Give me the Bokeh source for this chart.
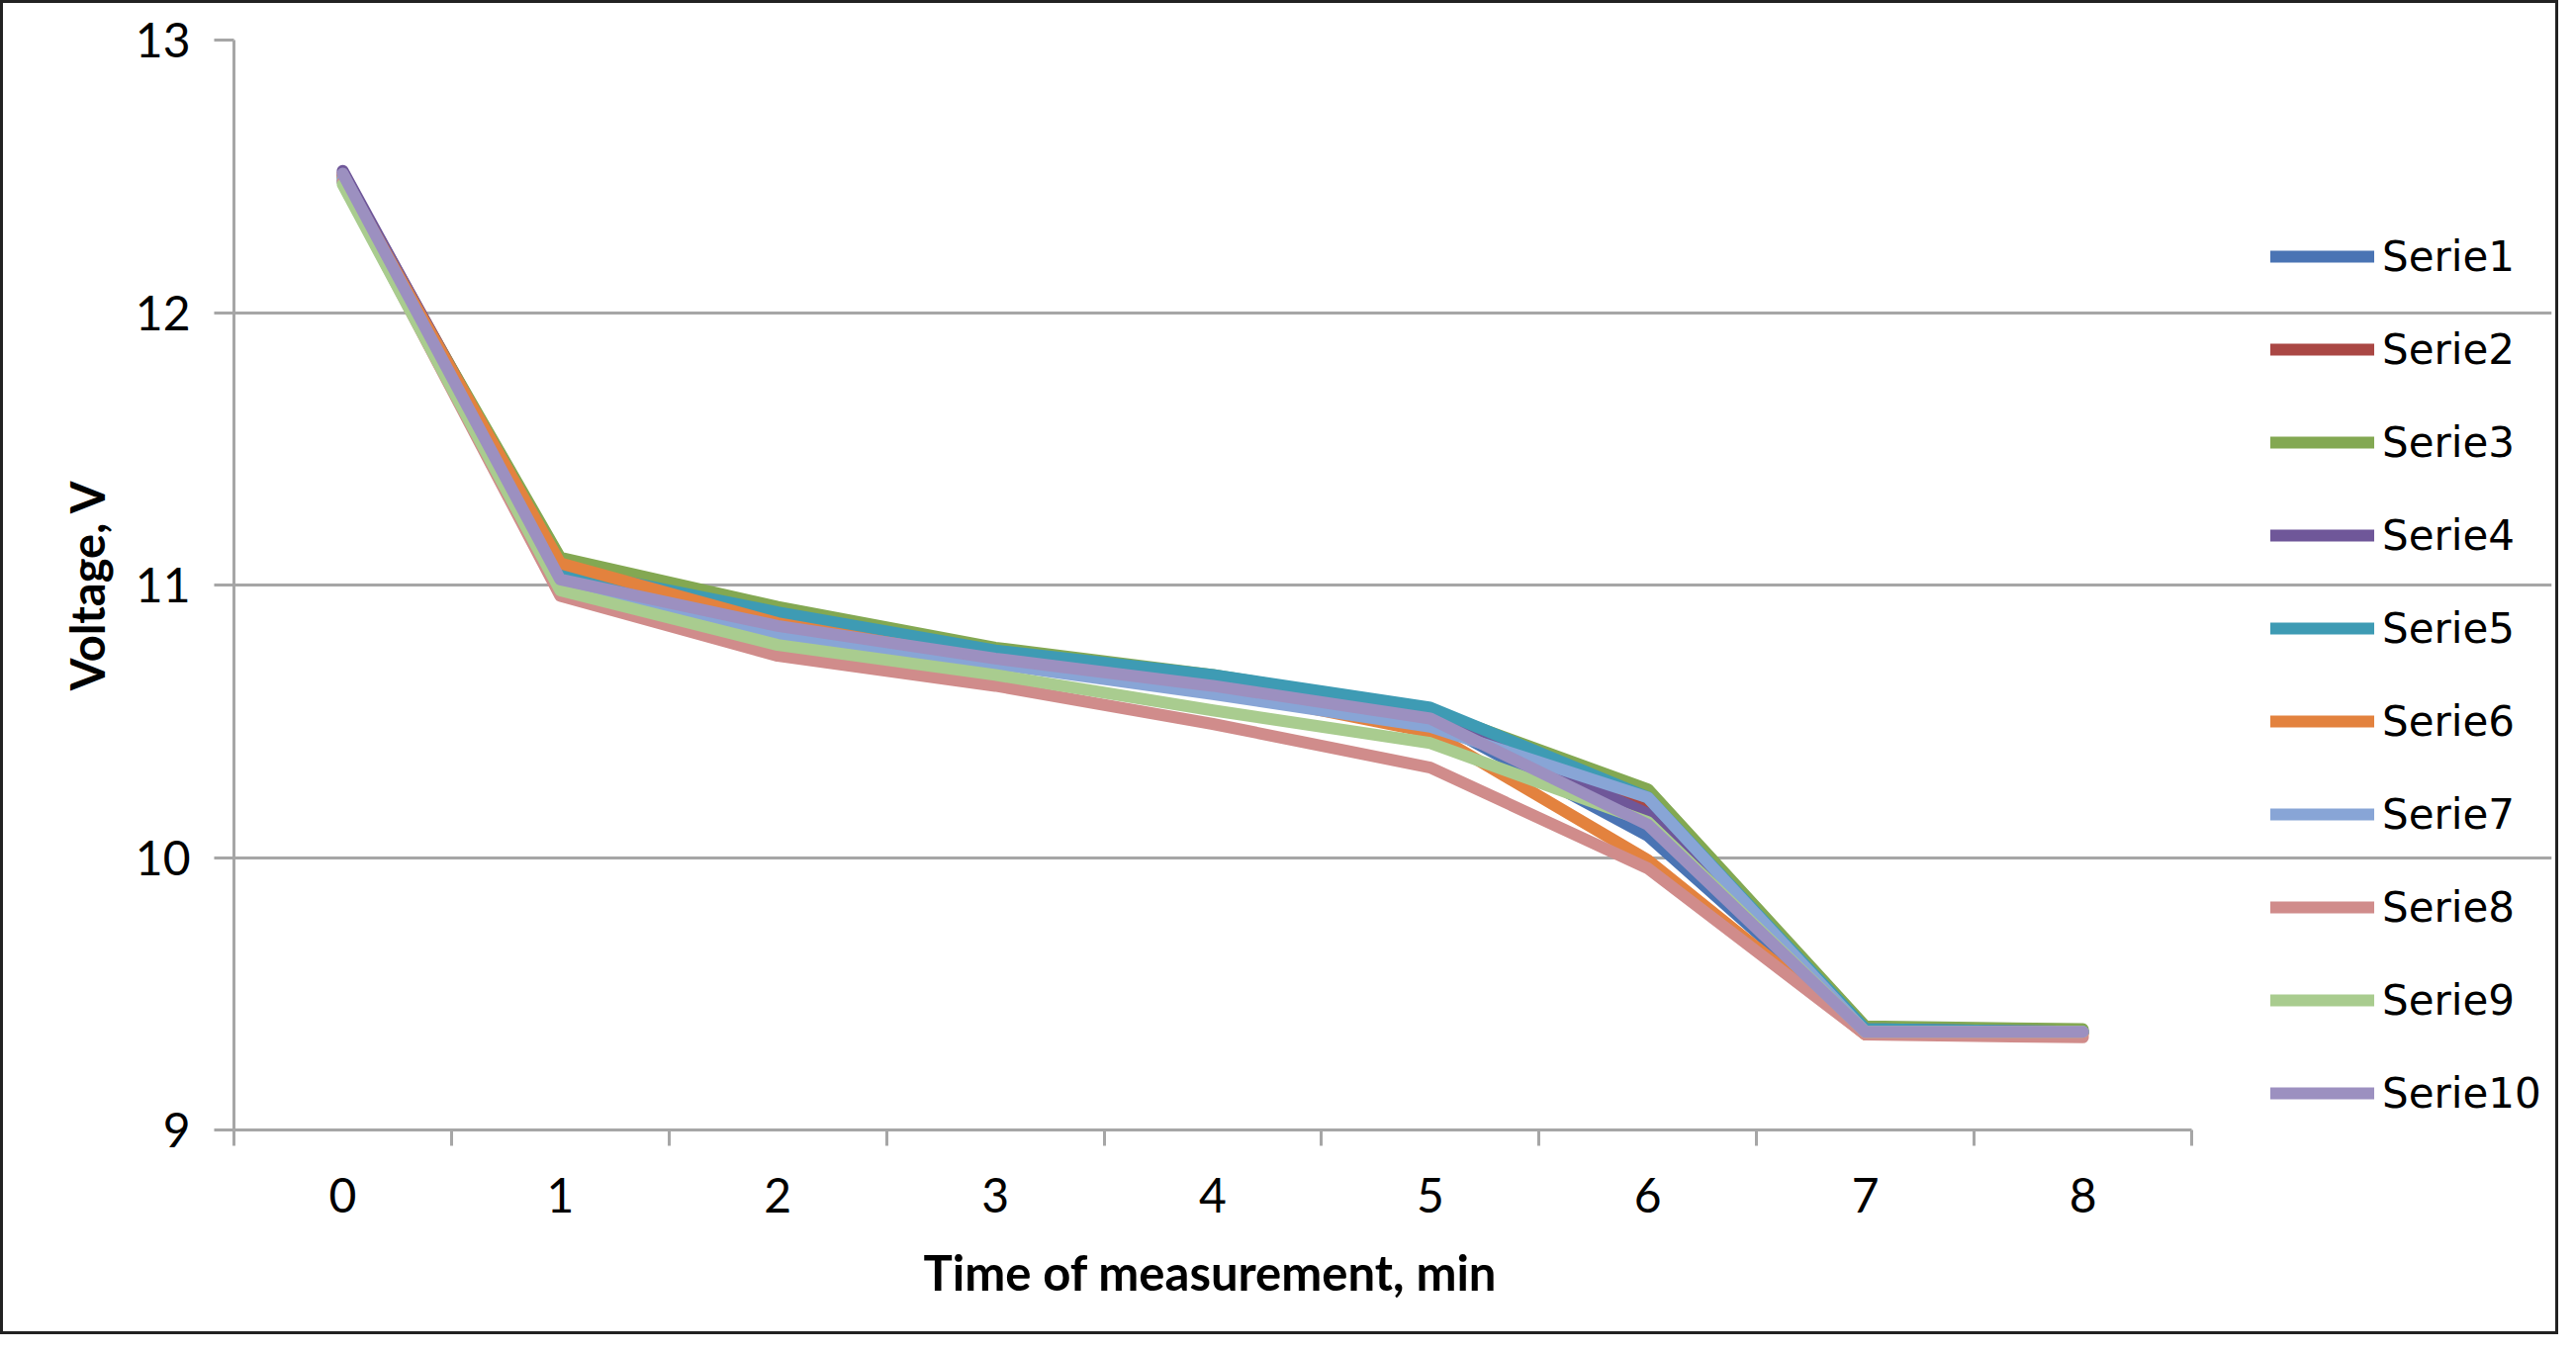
from bokeh.plotting import figure
from bokeh.models import Range1d, FixedTicker, Legend, LegendItem, Title
from bokeh.embed import file_html
from bokeh.resources import INLINE

times = [0, 1, 2, 3, 4, 5, 6, 7, 8]
x_tick_labels = ["0", "1", "2", "3", "4", "5", "6", "7", "8"]
y_ticks = [9, 10, 11, 12, 13]
series_names = ["Serie1", "Serie2", "Serie3", "Serie4", "Serie5",
                "Serie6", "Serie7", "Serie8", "Serie9", "Serie10"]
serie1 = [12.50, 11.05, 10.87, 10.74, 10.64, 10.51, 10.08, 9.37, 9.36]
serie2 = [12.51, 11.08, 10.89, 10.75, 10.65, 10.52, 10.18, 9.37, 9.36]
serie3 = [12.49, 11.10, 10.92, 10.77, 10.67, 10.54, 10.25, 9.38, 9.37]
serie4 = [12.52, 11.06, 10.88, 10.74, 10.64, 10.52, 10.16, 9.37, 9.36]
serie5 = [12.48, 11.06, 10.90, 10.76, 10.67, 10.55, 10.22, 9.37, 9.36]
serie6 = [12.50, 11.08, 10.86, 10.72, 10.62, 10.46, 9.99, 9.35, 9.35]
serie7 = [12.49, 11.00, 10.82, 10.71, 10.60, 10.48, 10.22, 9.36, 9.36]
serie8 = [12.48, 10.96, 10.74, 10.63, 10.49, 10.33, 9.96, 9.35, 9.34]
serie9 = [12.47, 10.98, 10.78, 10.67, 10.54, 10.42, 10.13, 9.36, 9.36]
serie10 = [12.51, 11.02, 10.85, 10.73, 10.63, 10.51, 10.12, 9.36, 9.36]
series_values = [serie1, serie2, serie3, serie4, serie5,
                 serie6, serie7, serie8, serie9, serie10]
colors = ["#4A74B4", "#AA4744", "#83A852", "#6F5799", "#3E9BB4",
          "#E3823E", "#88A5D6", "#D08C8B", "#A9CC8F", "#9C90C0"]
x_title = "Time of measurement, min"
y_title = "Voltage, V"

GRAY = "#A6A6A6"
W, H = 2586, 1349
LEFT, RIGHT_EDGE, MBR = 233, 2212, 10
x_lo, x_hi = times[0] - 0.5, times[-1] + 0.5
# extend the frame so that the legend (drawn in the frame) fits to the right
x_end = x_lo + (W - MBR - LEFT) * (x_hi - x_lo) / (RIGHT_EDGE - LEFT)

p = figure(width=W, height=H, output_backend="svg", toolbar_location=None,
           x_range=Range1d(x_lo, x_end), y_range=Range1d(9, 13),
           min_border_left=LEFT, min_border_right=MBR,
           min_border_top=37, min_border_bottom=210)
p.styles = {"border": "3px solid #222222"}
p.outline_line_color = None
p.background_fill_color = "white"
p.border_fill_color = "white"

renderers = []
for name, vals, c in zip(series_names, series_values, colors):
    r = p.line(times, vals, line_color=c, line_width=12,
               line_join="round", line_cap="round")
    renderers.append(r)

# x axis: labels at category centres, tick marks between categories
p.xaxis.bounds = (x_lo, x_hi)
p.xaxis.ticker = FixedTicker(ticks=times,
                             minor_ticks=[t - 0.5 for t in times] + [x_hi])
p.xaxis.major_label_overrides = {t: l for t, l in zip(times, x_tick_labels)}
p.xaxis.major_tick_out = 0
p.xaxis.major_tick_in = 0
p.xaxis.minor_tick_out = 16
p.xaxis.minor_tick_in = 0
p.xaxis.minor_tick_line_color = GRAY
p.xaxis.minor_tick_line_width = 3
p.xaxis.axis_line_color = GRAY
p.xaxis.axis_line_width = 3
p.xaxis.major_label_text_font = "Lato"
p.xaxis.major_label_text_font_size = "48px"
p.xaxis.major_label_text_color = "black"
p.xaxis.major_label_standoff = 32

# x-axis title, centred under the plotted categories (not the legend area)
xt = Title(text=x_title, align="left", offset=697, vertical_align="top",
           standoff=56, text_font="Lato", text_font_style="bold",
           text_font_size="49px", text_color="black")
p.add_layout(xt, "below")

p.yaxis.ticker = FixedTicker(ticks=y_ticks)
p.yaxis.major_tick_out = 20
p.yaxis.major_tick_in = 0
p.yaxis.minor_tick_out = 0
p.yaxis.minor_tick_in = 0
p.yaxis.major_tick_line_color = GRAY
p.yaxis.major_tick_line_width = 3
p.yaxis.axis_line_color = GRAY
p.yaxis.axis_line_width = 3
p.yaxis.major_label_text_font = "Lato"
p.yaxis.major_label_text_font_size = "48px"
p.yaxis.major_label_text_color = "black"
p.yaxis.major_label_standoff = 24
p.yaxis.axis_label = y_title
p.yaxis.axis_label_text_font = "Lato"
p.yaxis.axis_label_text_font_style = "bold"
p.yaxis.axis_label_text_font_size = "47px"
p.yaxis.axis_label_text_color = "black"
p.yaxis.axis_label_standoff = 18

p.xgrid.grid_line_color = None
p.ygrid.ticker = FixedTicker(ticks=y_ticks)
p.ygrid.bounds = (x_lo, x_hi)
p.ygrid.grid_line_color = GRAY
p.ygrid.grid_line_width = 3

legend = Legend(items=[LegendItem(label=n, renderers=[r]) for n, r in zip(series_names, renderers)],
                location=(2059, -10), orientation="vertical",
                glyph_width=105, glyph_height=94, label_height=94,
                label_standoff=8, spacing=0, padding=0, margin=0,
                label_text_font="DejaVu Sans", label_text_font_size="42px",
                label_text_color="black", border_line_color=None,
                background_fill_alpha=0)
p.add_layout(legend, "center")

open("out.html", "w").write(file_html(p, INLINE))
